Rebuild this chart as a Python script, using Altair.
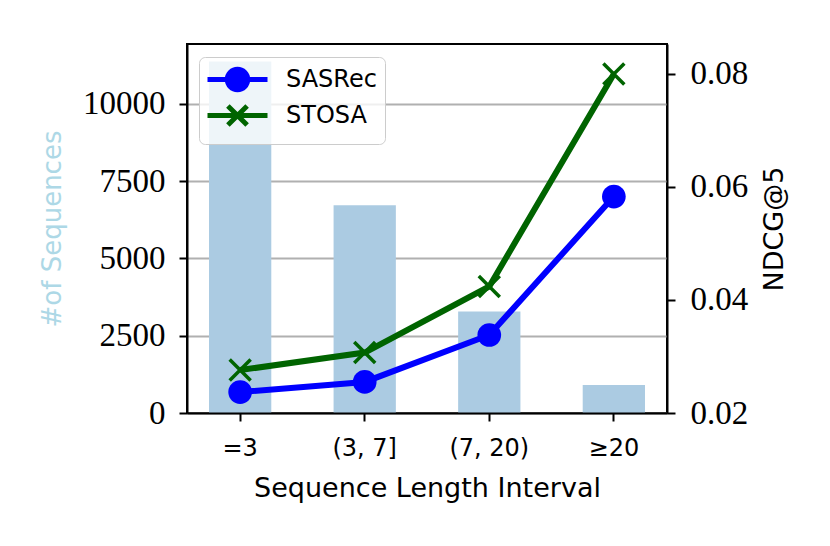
import altair as alt
import pandas as pd

categories = ["=3", "(3, 7]", "(7, 20)", "≥20"]
num_sequences = [11370, 6725, 3282, 905]
series_names = ["SASRec", "STOSA"]
sasrec = [0.0237, 0.0255, 0.0338, 0.0583]
stosa = [0.0276, 0.0307, 0.0424, 0.0800]

left_ticks = [0, 2500, 5000, 7500, 10000]
right_ticks = [0.02, 0.04, 0.06, 0.08]

bars_df = pd.DataFrame({"interval": categories, "count": num_sequences})
lines_df = pd.DataFrame({
    "interval": categories * 2,
    "series": [series_names[0]] * 4 + [series_names[1]] * 4,
    "ndcg": sasrec + stosa,
})

SANS = "DejaVu Sans"
SERIF = "Liberation Serif"
COLORS = ["blue", "darkgreen"]

xscale = alt.Scale(domain=categories, paddingInner=0.5, paddingOuter=0.1767)
x_enc = alt.X(
    "interval:N", scale=xscale, sort=categories,
    axis=alt.Axis(title="Sequence Length Interval", labelAngle=0, labelFont=SANS,
                  labelFontSize=24, titleFont=SANS, titleFontSize=27,
                  titleFontWeight="normal", labelPadding=15, titlePadding=15,
                  tickSize=8, tickWidth=2, tickColor="black", domainColor="black",
                  domainWidth=2, labelColor="black", titleColor="black", zindex=1,
                  grid=False),
)

bars = alt.Chart(bars_df).mark_bar(color="#abcbe2").encode(
    x=x_enc,
    y=alt.Y("count:Q", scale=alt.Scale(domain=[0, 11940], nice=False, zero=True),
            axis=alt.Axis(title="#of Sequences", values=left_ticks, format="d",
                          labelFont=SERIF, labelFontSize=33, labelColor="black",
                          titleFont=SANS, titleFontSize=26, titleFontWeight="normal",
                          titleColor="#add8e6", titlePadding=17, labelPadding=14,
                          tickSize=8, tickWidth=2, tickColor="black",
                          domainColor="black", domainWidth=2,
                          grid=True, gridColor="#b0b0b0", gridWidth=2, zindex=0)),
)

y_right = alt.Y("ndcg:Q", scale=alt.Scale(domain=[0.02, 0.0853], nice=False, zero=False),
                axis=alt.Axis(title="NDCG@5", orient="right", values=right_ticks,
                              format=".2f", labelFont=SERIF, labelFontSize=33,
                              labelColor="black", titleFont=SANS, titleFontSize=27,
                              titleFontWeight="normal", titleColor="black",
                              titleAngle=270, titleBaseline="top", titlePadding=14,
                              labelPadding=15, tickSize=8, tickWidth=2,
                              tickColor="black", domainColor="black", domainWidth=2,
                              grid=False, zindex=1))

stroke_scale = alt.Scale(domain=series_names, range=COLORS)
fill_scale = alt.Scale(domain=series_names, range=["blue", "transparent"])
legend_shapes = alt.Scale(domain=series_names, range=[
    "M-2.5,0L2.5,0M0.85,0A0.85,0.85,0,1,1,-0.85,0A0.85,0.85,0,1,1,0.85,0Z",
    "M-2.5,0L2.5,0M-0.8,-0.8L0.8,0.8M-0.8,0.8L0.8,-0.8",
])
legend = alt.Legend(
    title=None, orient="none", legendX=12, legendY=13,
    fillColor="rgba(255,255,255,0.8)", strokeColor="#cccccc",
    cornerRadius=6, padding=8, rowPadding=-5,
    labelFont=SANS, labelFontSize=24, labelColor="black",
    symbolSize=576, symbolStrokeWidth=5, symbolOffset=16, labelOffset=34,
    symbolOpacity=1,
)

series_layers = []
for name, col in zip(series_names, COLORS):
    base = alt.Chart(lines_df).transform_filter(alt.datum.series == name)
    series_layers.append(
        base.mark_line(strokeWidth=6, color=col).encode(x=x_enc, y=y_right)
    )
circles = alt.Chart(lines_df).transform_filter(
    alt.datum.series == series_names[0]
).mark_point(shape="circle", filled=True, size=560, opacity=1, color=COLORS[0]).encode(
    x=x_enc, y=y_right,
)
crosses = alt.Chart(lines_df).transform_filter(
    alt.datum.series == series_names[1]
).mark_point(shape="M-1,-1L1,1M-1,1L1,-1", filled=False, size=440,
             strokeWidth=3.5, opacity=1, color=COLORS[1]).encode(
    x=x_enc, y=y_right,
)
# legend-only layer: no rows are drawn, the legend entries come from the scale domains
legend_layer = alt.Chart(lines_df).transform_filter("false").mark_point(
    filled=True, opacity=1, size=576
).encode(
    x=x_enc, y=y_right,
    fill=alt.Fill("series:N", scale=fill_scale, legend=legend),
    stroke=alt.Stroke("series:N", scale=stroke_scale, legend=legend),
    shape=alt.Shape("series:N", scale=legend_shapes, legend=legend),
)

chart = alt.layer(
    bars, alt.layer(*series_layers, circles, crosses, legend_layer)
).resolve_scale(
    y="independent"
).properties(
    width=480, height=369, background="white",
    padding={"left": 179, "top": 36, "right": 140, "bottom": 120},
    autosize=alt.AutoSizeParams(type="none"),
).configure_view(
    stroke="black", strokeWidth=2
)

chart.save("out.html", embed_options={"renderer": "svg", "actions": False})
